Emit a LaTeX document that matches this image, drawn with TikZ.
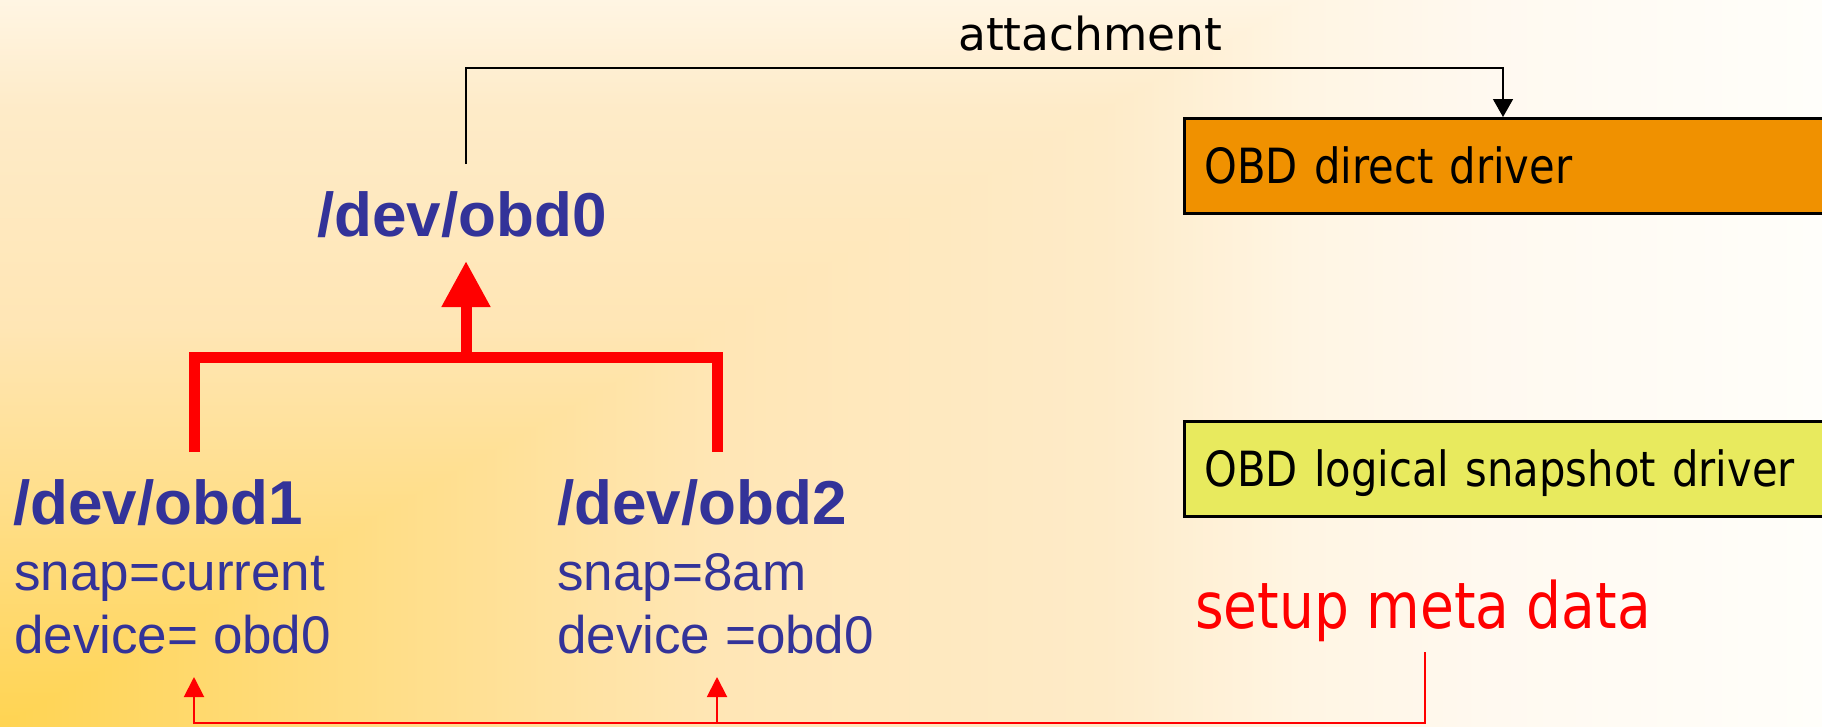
\documentclass[tikz,border=0pt]{standalone}
\usepackage{fontspec}
\setmainfont{Liberation Sans}
\newfontfamily\tah[FakeStretch=0.86]{DejaVu Sans}
\newfontfamily\verd{DejaVu Sans}
\usetikzlibrary{arrows.meta}

\definecolor{devblue}{HTML}{333399}
\definecolor{drvorange}{HTML}{F09100}
\definecolor{drvyellow}{HTML}{E8EA5E}
\definecolor{bgA}{HTML}{FFD452}
\definecolor{bgB}{HTML}{FFE6B5}
\definecolor{bgC}{HTML}{FEEBC8}
\definecolor{bgD}{HTML}{FFF5E3}
\definecolor{bgE}{HTML}{FFF9F0}
\definecolor{bgF}{HTML}{FFFEFA}

% corner gradient: gold in the lower left, fading up and to the right
\pgfdeclareverticalshading{bgup}{100bp}{%
  color(0bp)=(bgA); color(25bp)=(bgA); color(52.5bp)=(bgB);
  color(67.5bp)=(bgC); color(75bp)=(bgD); color(100bp)=(bgD)}
\pgfdeclarehorizontalshading{bgright}{100bp}{%
  color(0bp)=(bgA); color(25bp)=(bgA); color(44.6bp)=(bgB);
  color(55.3bp)=(bgC); color(60.7bp)=(bgD); color(66bp)=(bgE);
  color(74.9bp)=(bgF); color(100bp)=(bgF)}

\begin{document}
\begin{tikzpicture}[x=1pt,y=-1pt,
  devname/.style={font=\fontsize{62}{70}\selectfont\bfseries, text=devblue,
    anchor=base west, inner sep=0pt},
  devinfo/.style={font=\fontsize{53}{60}\selectfont, text=devblue,
    anchor=base west, inner sep=0pt},
  driver/.style={draw=black, line width=3pt, anchor=north west,
    inner xsep=20pt, inner ysep=0pt, text width=700pt, minimum height=95pt,
    text height=35pt, text depth=0pt, align=left,
    font=\tah\fontsize{48.5}{56}\selectfont},
  bracket/.style={draw=red, line width=11pt, line join=miter},
  feed/.style={draw=red, line width=2pt,
    -{Triangle[length=20pt,width=20pt]}},
  attach/.style={draw=black, line width=1.5pt,
    -{Triangle[length=18pt,width=20pt]}}
]
\useasboundingbox (0,0) rectangle (1822,726);
\clip (0,0) rectangle (1822,726);
\shade[shading=bgright] (0,0) rectangle (1822,726);
\shade[shading=bgup] (0,726) -- (0,0) -- (1300,0) -- cycle;

% driver boxes on the right
\node[driver, fill=drvorange] (drvA) at (1183,117) {OBD direct driver};
\node[driver, fill=drvyellow] (drvB) at (1183,420) {OBD logical snapshot driver};

% device names and their settings
\node[devname] (obd0) at (317,236) {/dev/obd0};
\node[devname] (obd1) at (13,524) {/dev/obd1};
\node[devname] (obd2) at (557,524) {/dev/obd2};
\node[devinfo] (snap1) at (14,590) {snap=current};
\node[devinfo] (dev1) at (14,653) {device= obd0};
\node[devinfo] (snap2) at (557,590) {snap=8am};
\node[devinfo] (dev2) at (557,653) {device =obd0};

\node[anchor=base west, inner sep=0pt, font=\verd\fontsize{45.5}{50}\selectfont]
  (attlabel) at (958,50) {attachment};
\node[anchor=base west, inner sep=0pt, text=red,
  font=\tah\fontsize{64}{70}\selectfont] (setup) at (1195,628) {setup meta data};

% attachment of obd0 to the direct driver
\coordinate (attA) at (466,164);
\coordinate (attB) at (1503,68);
\draw[attach] (attA) |- (attB) -- (attB |- drvA.north);

% obd1 and obd2 both built on obd0
\coordinate (leg1) at (194,452);
\coordinate (leg2) at (717,452);
\coordinate (joint) at (466,357);
\coordinate (tip0) at (466,261);
\draw[bracket] (leg1) |- (joint) -| (leg2);
\draw[bracket, -{Triangle[length=46pt,width=46pt]}] (joint) -- (tip0);

% metadata feeding both snapshot devices
\coordinate (s0) at (1425,652);
\coordinate (sb) at (1425,723);
\coordinate (t1) at (194,677);
\coordinate (t2) at (717,677);
\draw[feed] (s0) -- (sb) -| (t1);
\draw[feed] (sb) -| (t2);
\end{tikzpicture}
\end{document}
